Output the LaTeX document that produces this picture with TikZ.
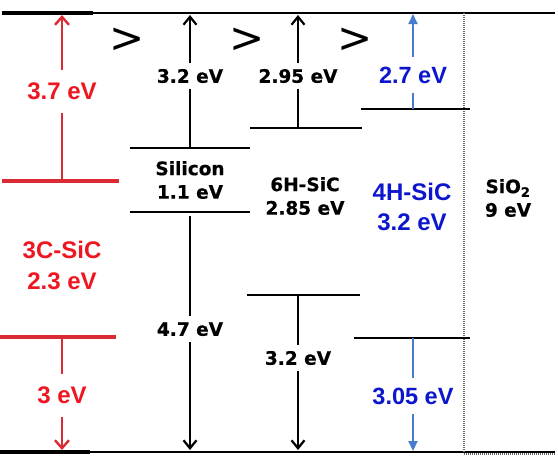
\documentclass[tikz,border=0pt]{standalone}
\usepackage{fontspec}
\usetikzlibrary{arrows.meta}
\newfontfamily\vfont{DejaVu Sans}
\newfontfamily\vfontb{DejaVu Sans Bold}[FakeBold=0.6]
\newfontfamily\afont{Liberation Sans}
\definecolor{redT}{RGB}{238,22,32}
\definecolor{redL}{RGB}{218,42,52}
\definecolor{blueT}{RGB}{12,22,205}
\definecolor{blueL}{RGB}{72,125,205}
\tikzset{
  level/.style={line width=2.6pt, black},
  blk/.style={line width=2.2pt, black, -{Straight Barb[length=8pt,width=13pt,line width=2.2pt]}},
  redarr/.style={line width=2.6pt, redL, -{Straight Barb[length=8pt,width=14pt,line width=2.4pt]}},
  bluearr/.style={line width=2.2pt, blueL, -{Triangle[length=10pt,width=9pt]}},
  blab/.style={font=\vfontb\fontsize{18.5}{22}\selectfont, black, fill=white, text height=13.5pt, text depth=0pt, inner xsep=1pt, inner ysep=6pt},
  rlab/.style={font=\afont\bfseries\fontsize{24}{30}\selectfont, redT, fill=white, text height=17pt, text depth=0pt, inner xsep=1pt, inner ysep=13pt},
  ulab/.style={font=\afont\bfseries\fontsize{23.5}{30}\selectfont, blueT, fill=white, text height=17pt, text depth=0pt, inner xsep=1pt, inner ysep=9.5pt},
  bname/.style={font=\vfontb\fontsize{18.5}{23.5}\selectfont, black, align=center, inner sep=0pt},
  rname/.style={font=\afont\bfseries\fontsize{24}{31}\selectfont, redT, align=center, inner sep=0pt},
  uname/.style={font=\afont\bfseries\fontsize{24}{30}\selectfont, blueT, align=center, inner sep=0pt},
  gt/.style={font=\vfont\fontsize{42}{42}\selectfont, black, inner sep=0pt}
}
\begin{document}
\begin{tikzpicture}[x=1pt,y=-1pt]
\useasboundingbox (0,0) rectangle (558,464);
% top and bottom reference lines
\coordinate (TL) at (2,13); \coordinate (TR) at (555,13);
\coordinate (BL) at (0,452); \coordinate (BR) at (555,452);
\draw[line width=2.2pt] (TL) -- (TR);
\draw[line width=2.2pt] (BL) -- (BR);
\draw[line width=4pt] (TL) -- (93,13);
\draw[line width=4pt] (BL) -- (90,452);
% SiO2 boundary
\coordinate (DT) at (464,13); \coordinate (DB) at (464,452);
\draw[black!60, line width=1.3pt, dash pattern=on 1pt off 1pt] (DT) -- (DB);
\draw[black!60, line width=1.3pt, dash pattern=on 1pt off 1pt] (464,454) -- (555,454);
% 3C-SiC (red)
\coordinate (r1) at (2,181); \coordinate (r2) at (119,181);
\coordinate (r3) at (0,337); \coordinate (r4) at (116,337);
\draw[redL, line width=3.5pt] (r1) -- (r2);
\draw[redL, line width=3.5pt] (r3) -- (r4);
\coordinate (rcb) at (62,181); \coordinate (rtop) at (62,15);
\coordinate (rvb) at (62,337); \coordinate (rbot) at (62,450);
\draw[redarr] (rcb) -- (rtop);
\draw[redarr] (rvb) -- (rbot);
\node[rlab] (l37) at (62,91) {3.7 eV};
\node[rlab] (l3) at (62,395) {3 eV};
\node[rname] (n3c) at (62,265) {3C-SiC\\2.3 eV};
% Silicon
\coordinate (s1) at (130,148); \coordinate (s2) at (250,148);
\coordinate (s3) at (130,212); \coordinate (s4) at (250,212);
\draw[level] (s1) -- (s2);
\draw[level] (s3) -- (s4);
\coordinate (scb) at (190,148); \coordinate (stop) at (190,15);
\coordinate (svb) at (190,216); \coordinate (sbot) at (190,450);
\draw[blk] (scb) -- (stop);
\draw[blk] (svb) -- (sbot);
\node[blab] (l32a) at (190,76) {3.2 eV};
\node[blab] (l47) at (190,329) {4.7 eV};
\node[bname] (nsi) at (190,180) {Silicon\\1.1 eV};
% 6H-SiC
\coordinate (h1) at (250,128); \coordinate (h2) at (362,128);
\coordinate (h3) at (247,295); \coordinate (h4) at (360,295);
\draw[level] (h1) -- (h2);
\draw[level] (h3) -- (h4);
\coordinate (hcb) at (298,128); \coordinate (htop) at (298,15);
\coordinate (hvb) at (298,295); \coordinate (hbot) at (298,450);
\draw[blk] (hcb) -- (htop);
\draw[blk] (hvb) -- (hbot);
\node[blab] (l295) at (298,76) {2.95 eV};
\node[blab] (l32b) at (298,358) {3.2 eV};
\node[bname] (n6h) at (305,196) {6H-SiC\\2.85 eV};
% 4H-SiC (blue)
\coordinate (f1) at (361,109); \coordinate (f2) at (470,109);
\coordinate (f3) at (354,338); \coordinate (f4) at (470,338);
\draw[level] (f1) -- (f2);
\draw[level] (f3) -- (f4);
\coordinate (fcb) at (413,109); \coordinate (ftop) at (413,14);
\coordinate (fvb) at (413,338); \coordinate (fbot) at (413,451);
\draw[bluearr] (fcb) -- (ftop);
\draw[bluearr] (fvb) -- (fbot);
\node[ulab] (l27) at (413,75) {2.7 eV};
\node[ulab] (l305) at (413,396) {3.05 eV};
\node[uname] (n4h) at (412,207) {4H-SiC\\3.2 eV};
% SiO2
\node[bname] (nsio) at (508,198) {SiO\textsubscript{2}\\9 eV};
% comparison signs
\node[gt] (g1) at (127,40) {>};
\node[gt] (g2) at (247,40) {>};
\node[gt] (g3) at (355,40) {>};
\end{tikzpicture}
\end{document}
